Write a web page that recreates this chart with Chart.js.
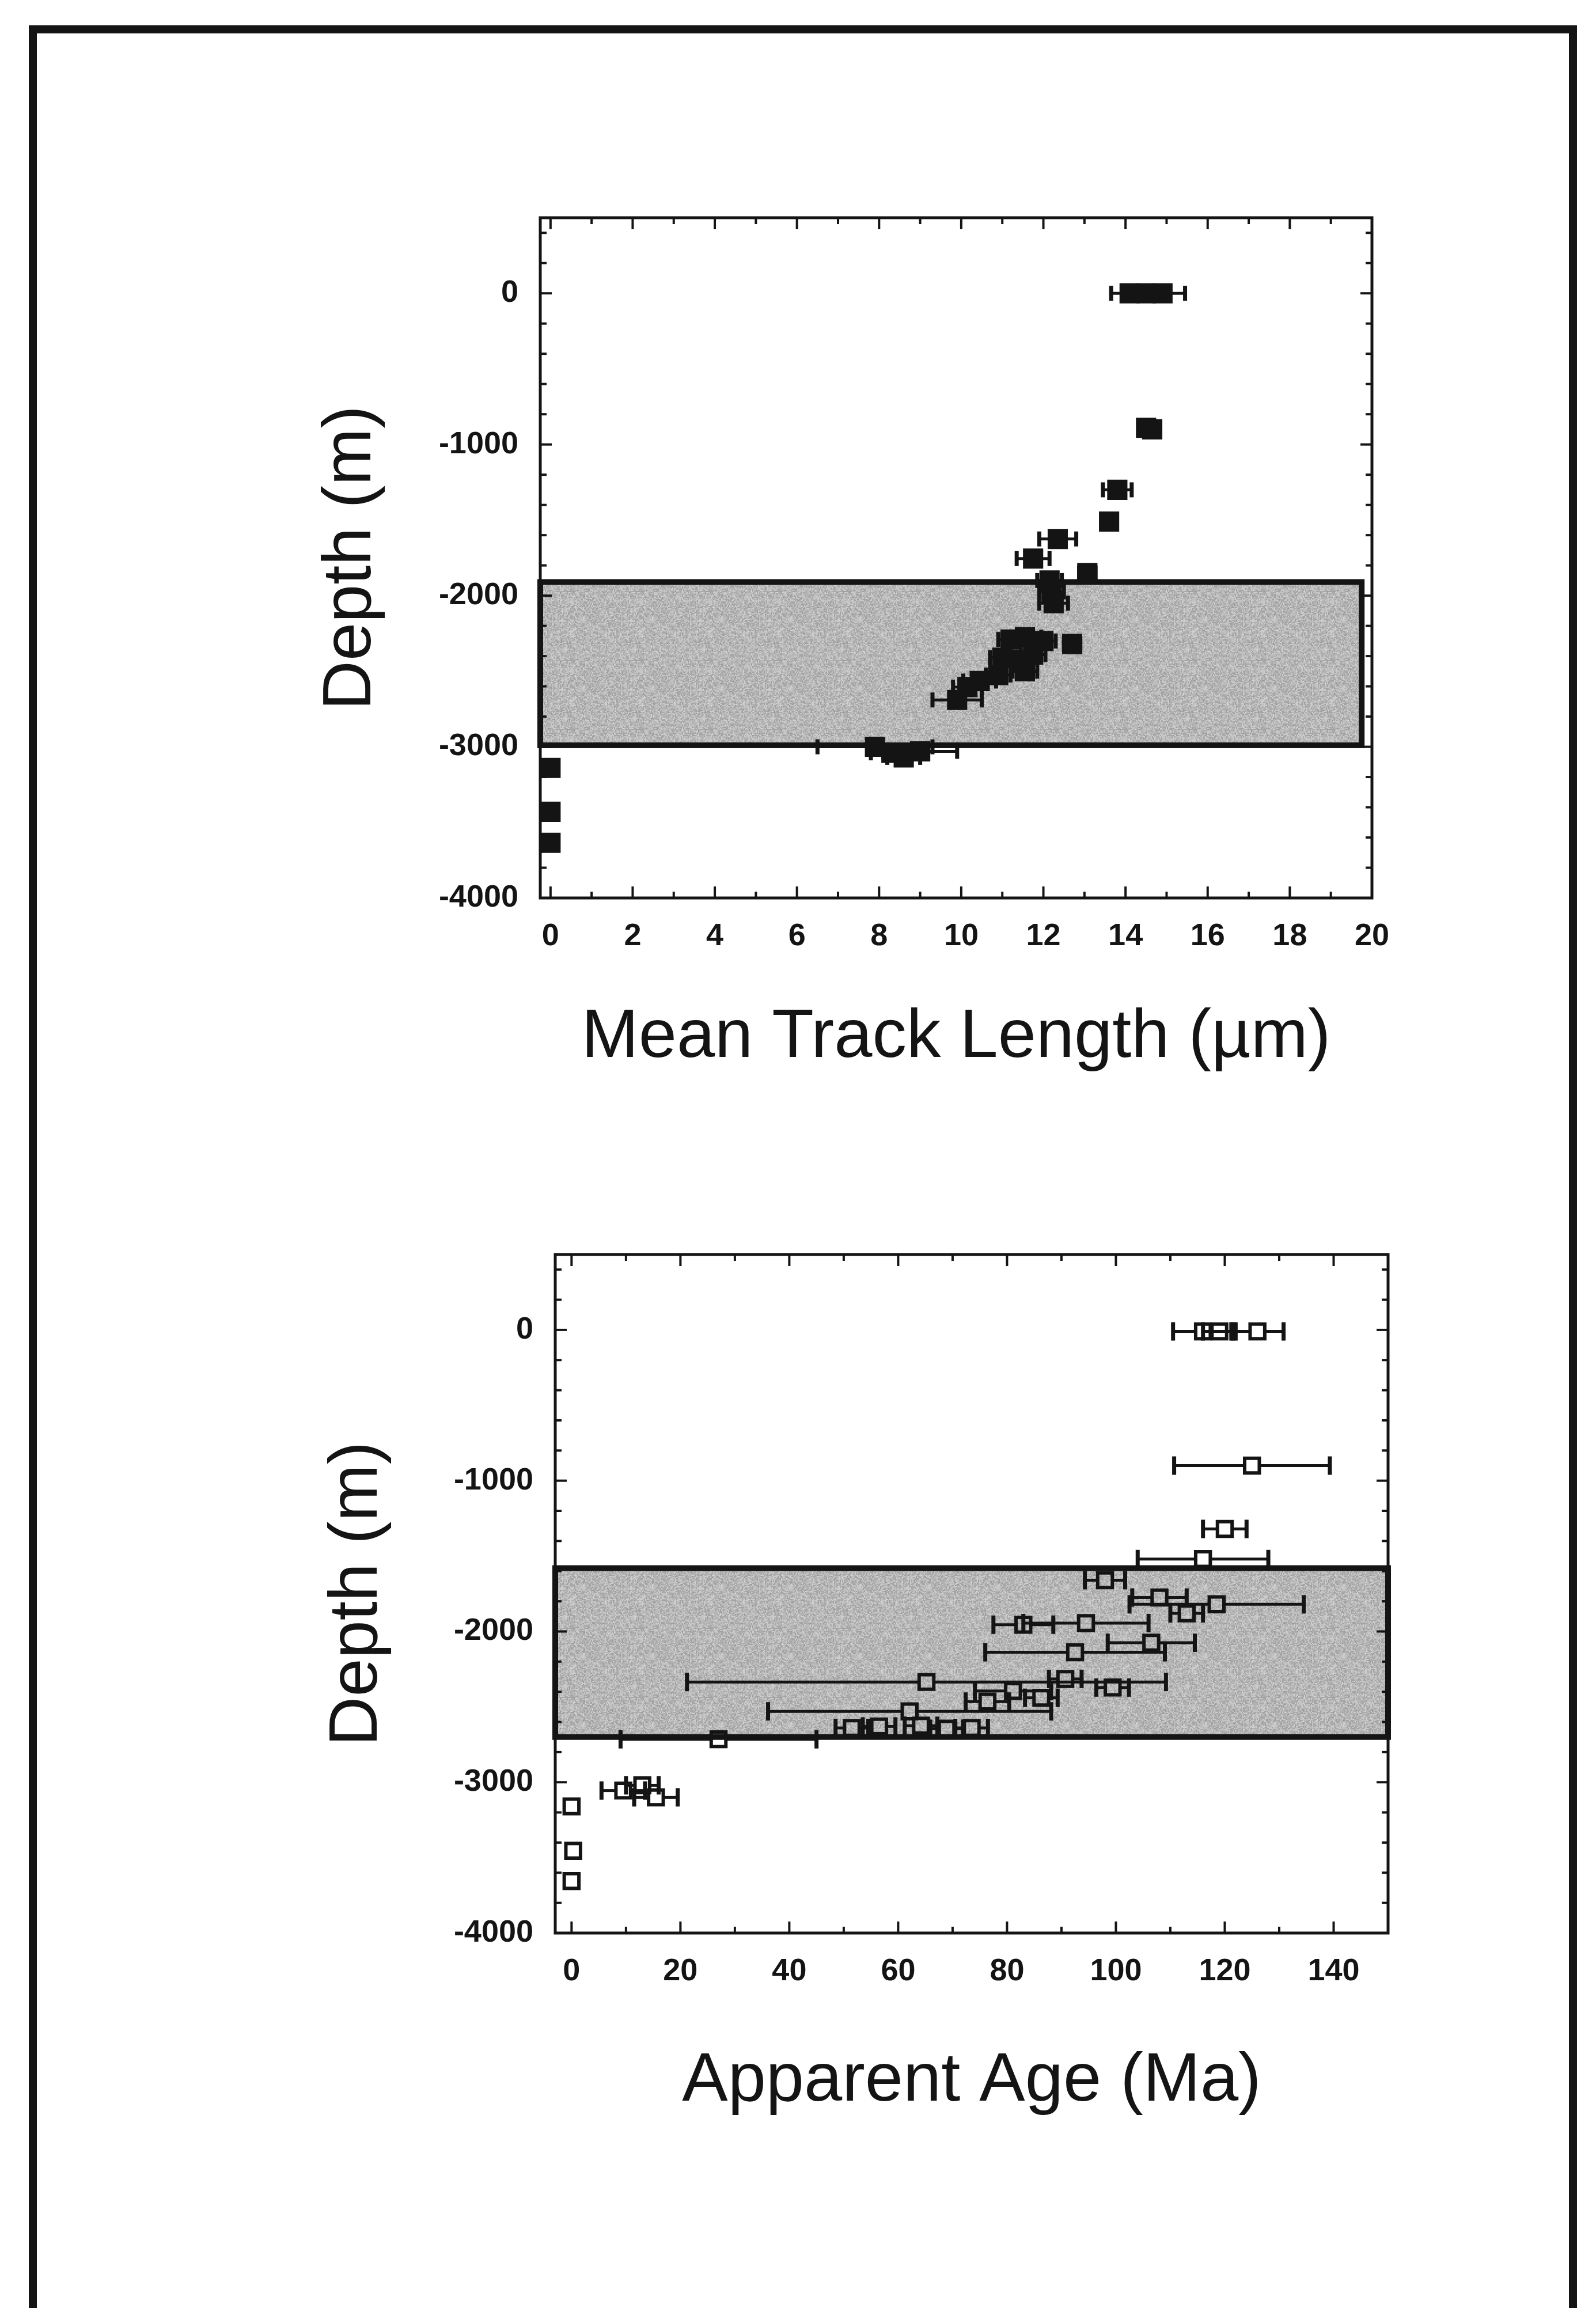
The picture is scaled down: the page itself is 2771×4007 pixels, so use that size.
<!DOCTYPE html>
<html>
<head>
<meta charset="utf-8">
<script src="https://cdn.jsdelivr.net/npm/chart.js@4.4.1/dist/chart.umd.min.js"></script>
<style>
  html, body { margin: 0; padding: 0; background: #fff; }
  body { width: 2771px; height: 4007px; position: relative; overflow: hidden; }
  #sheet { position: absolute; left: 50px; top: 44px; width: 2688px; height: 4200px;
           border: 14px solid #141414; box-sizing: border-box; }
  canvas { position: absolute; }
  #lengthChart { left: 400px; top: 300px; }
  #ageChart { left: 400px; top: 2100px; }
</style>
</head>
<body>
<div id="sheet"></div>
<canvas id="lengthChart" width="2100" height="1650"></canvas>
<canvas id="ageChart" width="2100" height="1650"></canvas>
<script>
// Mean track length (µm) against depth (m), with 1σ horizontal error
const lengthDepth = [0, 0, 0, -890, -900, -1300, -1510, -1625, -1755, -1850,
                     -1900, -1975, -2050, -2320, -2275, -2300, -2290, -2390, -2425, -2410,
                     -2500, -2525, -2565, -2605, -2690, -3000, -3040, -3070, -3030,
                     -3140, -3430, -3635];
const lengthValue = [14.1, 14.5, 14.9, 14.5, 14.65, 13.8, 13.6, 12.35, 11.75, 13.07,
                     12.15, 12.2, 12.25, 12.7, 11.55, 12.0, 11.2, 11.75, 11.4, 11.0,
                     11.55, 10.9, 10.45, 10.15, 9.9, 7.9, 8.3, 8.6, 9.0,
                     0, 0, 0];
const lengthError = [0.45, 0.4, 0.55, 0.1, 0.1, 0.35, 0.15, 0.45, 0.4, 0.2,
                     0.3, 0.3, 0.35, 0.2, 0.4, 0.3, 0.3, 0.3, 0.3, 0.3,
                     0.3, 0.3, 0.4, 0.35, 0.6, 1.4, 0.5, 0.4, 0.9,
                     0, 0, 0];

// Apparent fission-track age (Ma) against depth (m), with 1σ horizontal error
const ageDepth = [-10, -10, -10, -900, -1320, -1520, -1660, -1775, -1820, -1880,
                  -1955, -1945, -2075, -2138, -2335, -2315, -2372, -2395, -2440, -2465,
                  -2530, -2640, -2630, -2625, -2645, -2640, -2715,
                  -3055, -3020, -3100, -3160, -3455, -3655];
const ageValue = [116, 119, 126, 125, 120, 116, 98, 108, 118.5, 113,
                  83, 94.5, 106.5, 92.5, 65.2, 90.7, 99.4, 81.1, 86.3, 76.4,
                  62.1, 51.5, 56.5, 64.2, 68.9, 73.5, 27,
                  9.5, 13, 15.5, 0, 0.3, 0];
const ageError = [5.5, 3, 4.8, 14.3, 4, 12, 3.7, 5, 16, 3,
                  5.5, 11.5, 8, 16.5, 44, 3, 3, 7, 3, 4,
                  26, 3, 3, 3, 3, 3, 18,
                  4, 3, 4, 0, 0, 0];

// Shaded depth intervals [top, bottom] in m
const lengthZone = [-1910, -2990];
const ageZone = [-1580, -2700];

// Labelled tick values
const depthTicks = [0, -1000, -2000, -3000, -4000];
const lengthTicks = [0, 2, 4, 6, 8, 10, 12, 14, 16, 18, 20];
const ageTicks = [0, 20, 40, 60, 80, 100, 120, 140];

const ink = '#141414';
const tickFont = { family: "'Liberation Sans', Arial, sans-serif", size: 54, weight: 'bold' };
const titleFont = { family: "'Liberation Sans', Arial, sans-serif", size: 119, weight: 'normal', lineHeight: 1.2 };

// grainy grey fill for the shaded zone
let grain = null;
function grainPattern(ctx) {
  if (grain) return grain;
  const n = 60, c = document.createElement('canvas');
  c.width = c.height = n * 2;
  const g = c.getContext('2d');
  let s = 987654321;
  for (let i = 0; i < n; i++) {
    for (let j = 0; j < n; j++) {
      s = (s * 1103515245 + 12345) & 0x7fffffff;
      const v = 158 + ((s >> 12) % 52);
      g.fillStyle = `rgb(${v},${v},${v})`;
      g.fillRect(i * 2, j * 2, 2, 2);
    }
  }
  grain = ctx.createPattern(c, 'repeat');
  return grain;
}

function line(ctx, x1, y1, x2, y2) {
  ctx.beginPath();
  ctx.moveTo(x1, y1);
  ctx.lineTo(x2, y2);
  ctx.stroke();
}

const figurePlot = {
  id: 'figurePlot',
  beforeDatasetsDraw(chart, args, opts) {
    const { ctx, chartArea: a, scales: { x, y } } = chart;
    ctx.save();
    // shaded zone
    const zt = y.getPixelForValue(opts.zone[0]);
    const zb = y.getPixelForValue(opts.zone[1]);
    const zr = Math.min(x.getPixelForValue(opts.zoneRight), a.right);
    ctx.fillStyle = grainPattern(ctx);
    ctx.fillRect(a.left, zt, zr - a.left, zb - zt);
    ctx.lineWidth = 10;
    ctx.strokeStyle = ink;
    ctx.strokeRect(a.left, zt, zr - a.left, zb - zt);

    // horizontal error bars
    const ds = chart.data.datasets[0];
    ds.data.forEach((p, i) => {
      const e = opts.errors[i];
      if (!e) return;
      const px = x.getPixelForValue(p.x);
      const py = y.getPixelForValue(p.y);
      const lo = x.getPixelForValue(p.x - e);
      const hi = x.getPixelForValue(p.x + e);
      ctx.lineWidth = opts.barWidth;
      if (lo < px - opts.gap) line(ctx, lo, py, px - opts.gap, py);
      if (hi > px + opts.gap) line(ctx, px + opts.gap, py, hi, py);
      ctx.lineWidth = opts.barWidth + 2;
      line(ctx, lo, py - opts.cap, lo, py + opts.cap);
      line(ctx, hi, py - opts.cap, hi, py + opts.cap);
    });
    ctx.restore();
  },
  afterDraw(chart, args, opts) {
    const { ctx, chartArea: a, scales: { x, y } } = chart;
    ctx.save();
    ctx.strokeStyle = ink;
    ctx.lineWidth = 4;
    const near = (p, q) => Math.abs(p - q) < 4;
    // inward ticks on all four sides
    for (let k = Math.ceil(x.min / opts.xMinor); k * opts.xMinor <= x.max + 1e-9; k++) {
      const v = k * opts.xMinor;
      const p = x.getPixelForValue(v);
      if (near(p, a.left) || near(p, a.right)) continue;
      const len = Math.abs(v / opts.xMajor - Math.round(v / opts.xMajor)) < 1e-6 ? 20 : 11;
      line(ctx, p, a.bottom, p, a.bottom - len);
      line(ctx, p, a.top, p, a.top + len);
    }
    for (let k = Math.ceil(y.min / opts.yMinor); k * opts.yMinor <= y.max + 1e-9; k++) {
      const v = k * opts.yMinor;
      const p = y.getPixelForValue(v);
      if (near(p, a.top) || near(p, a.bottom)) continue;
      const len = Math.abs(v / opts.yMajor - Math.round(v / opts.yMajor)) < 1e-6 ? 20 : 11;
      line(ctx, a.left, p, a.left + len, p);
      line(ctx, a.right, p, a.right - len, p);
    }
    ctx.lineWidth = 5;
    ctx.strokeRect(a.left, a.top, a.width, a.height);
    ctx.restore();
  }
};

function makeConfig(p) {
  return {
    type: 'scatter',
    data: {
      datasets: [{
        data: p.values.map((v, i) => ({ x: v, y: p.depths[i] })),
        pointStyle: 'rect',
        pointRadius: p.radius,
        pointHoverRadius: p.radius,
        borderWidth: p.border,
        pointBorderWidth: p.border,
        borderColor: ink,
        backgroundColor: p.fill,
        clip: false
      }]
    },
    options: {
      responsive: false,
      devicePixelRatio: 1,
      animation: false,
      events: [],
      layout: { padding: p.padding },
      plugins: {
        legend: { display: false },
        tooltip: { enabled: false },
        figurePlot: p.plot
      },
      scales: {
        x: {
          type: 'linear',
          min: p.xMin, max: p.xMax,
          afterBuildTicks: s => { s.ticks = p.xTicks.map(v => ({ value: v })); },
          afterFit: s => { s.height = p.xHeight; },
          grid: { display: false, drawTicks: false },
          border: { display: false },
          ticks: { padding: 35, maxRotation: 0, autoSkip: false, font: tickFont, color: ink,
                   callback: v => String(v) },
          title: { display: true, text: p.xTitle, font: titleFont, color: ink,
                   padding: { top: 0, bottom: p.xTitlePad } }
        },
        y: {
          type: 'linear',
          min: -4000, max: 500,
          afterBuildTicks: s => { s.ticks = depthTicks.map(v => ({ value: v })); },
          afterFit: s => { s.width = p.yWidth; },
          grid: { display: false, drawTicks: false },
          border: { display: false },
          ticks: { padding: 38, autoSkip: false, font: tickFont, color: ink,
                   callback: v => String(v) },
          title: { display: true, text: 'Depth (m)', font: titleFont, color: ink,
                   padding: { top: p.yTitlePad, bottom: 0 } }
        }
      }
    },
    plugins: [figurePlot]
  };
}

new Chart(document.getElementById('lengthChart'), makeConfig({
  values: lengthValue, depths: lengthDepth,
  radius: 22, border: 4, fill: ink,
  padding: { left: 0, top: 78, right: 118, bottom: 0 },
  xMin: -0.25, xMax: 20, xTicks: lengthTicks, xHeight: 391, yWidth: 538,
  xTitle: 'Mean Track Length (µm)', xTitlePad: 76, yTitlePad: 139,
  plot: { zone: lengthZone, zoneRight: 19.75, errors: lengthError, gap: 12, cap: 13, barWidth: 5,
          xMinor: 1, xMajor: 2, yMinor: 200, yMajor: 1000 }
}));

new Chart(document.getElementById('ageChart'), makeConfig({
  values: ageValue, depths: ageDepth,
  radius: 18, border: 6, fill: 'rgba(0,0,0,0)',
  padding: { left: 0, top: 78, right: 90, bottom: 0 },
  xMin: -3, xMax: 150, xTicks: ageTicks, xHeight: 394, yWidth: 564,
  xTitle: 'Apparent Age (Ma)', xTitlePad: 64, yTitlePad: 150,
  plot: { zone: ageZone, zoneRight: 150, errors: ageError, gap: 15, cap: 16, barWidth: 5,
          xMinor: 10, xMajor: 20, yMinor: 200, yMajor: 1000 }
}));
</script>
</body>
</html>
